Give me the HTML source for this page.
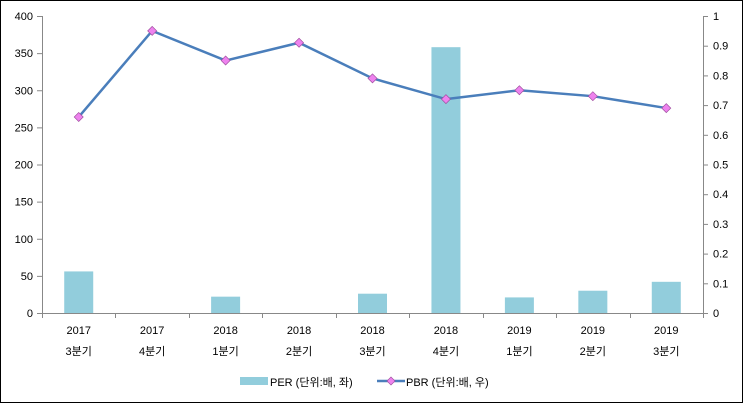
<!DOCTYPE html><html><head><style>body{margin:0;background:#fff}svg{display:block;font-family:"Liberation Sans","Noto Sans CJK KR",sans-serif}</style></head><body>
<svg width="743" height="403" viewBox="0 0 743 403">
<rect x="0.5" y="0.5" width="742" height="402" fill="#fff" stroke="#000"/>
<g stroke="#888" stroke-width="1" fill="none">
<line x1="42.5" y1="16" x2="42.5" y2="313"/>
<line x1="703.5" y1="16" x2="703.5" y2="313"/>
<line x1="42" y1="313.5" x2="703" y2="313.5"/>
</g>
<g id="ticks" stroke="#888"></g>
<g id="bars" fill="#92CDDC"></g>
<g id="lab" font-size="11" fill="#000"></g>
<polyline id="line" fill="none" stroke="#4A7EBB" stroke-width="2.5"/>
<g id="mk" fill="#EE82EE" stroke="#A050A0" stroke-width="0.7"></g>
<rect x="240" y="377" width="28" height="8" fill="#92CDDC"/>
<text x="270" y="386" font-size="11">PER (단위:배, 좌)</text>
<line x1="377" y1="381" x2="405" y2="381" stroke="#4A7EBB" stroke-width="2.5"/>
<path d="M391 377l4 4-4 4-4-4z" fill="#EE82EE" stroke="#A050A0" stroke-width="0.7"/>
<text x="406" y="386" font-size="11">PBR (단위:배, 우)</text>
<script>
const ns="http://www.w3.org/2000/svg";
function el(p,t,a,txt){const e=document.createElementNS(ns,t);for(const k in a)e.setAttribute(k,a[k]);if(txt!==undefined)e.textContent=txt;document.getElementById(p).appendChild(e);}
const y0=313,h=297;
for(let i=0;i<=8;i++){const v=i*50,y=y0-v/400*h;el("ticks","line",{x1:37,x2:42,y1:y+.5,y2:y+.5});el("lab","text",{x:33,y:y+4,"text-anchor":"end"},v);}
for(let i=0;i<=10;i++){const y=y0-i/10*h;el("ticks","line",{x1:703,x2:708,y1:y+.5,y2:y+.5});el("lab","text",{x:713,y:y+4},i==0?"0":i==10?"1":(i/10).toString());}
const cw=661/9;
for(let i=0;i<=9;i++){const x=Math.round(42+i*cw)+.5;el("ticks","line",{x1:x,x2:x,y1:313,y2:318});}
const yrs=["2017","2017","2018","2018","2018","2018","2019","2019","2019"],qs=["3","4","1","2","3","4","1","2","3"];
const per=[56,0,22,0,26,358,21,30,42],pbr=[0.66,0.95,0.85,0.91,0.79,0.72,0.75,0.73,0.69];
let pts=[];
for(let i=0;i<9;i++){const cx=42+cw*(i+.5);
el("lab","text",{x:cx,y:334,"text-anchor":"middle"},yrs[i]);
el("lab","text",{x:cx,y:355,"text-anchor":"middle"},qs[i]+"분기");
if(per[i]){const bh=per[i]/400*h;el("bars","rect",{x:cx-14.5,y:y0-bh,width:29,height:bh});}
const py=y0-pbr[i]*h;pts.push(cx+","+py);
el("mk","path",{d:`M${cx} ${py-4.5}l4.5 4.5-4.5 4.5-4.5-4.5z`});}
document.getElementById("line").setAttribute("points",pts.join(" "));
</script>
</svg></body></html>
